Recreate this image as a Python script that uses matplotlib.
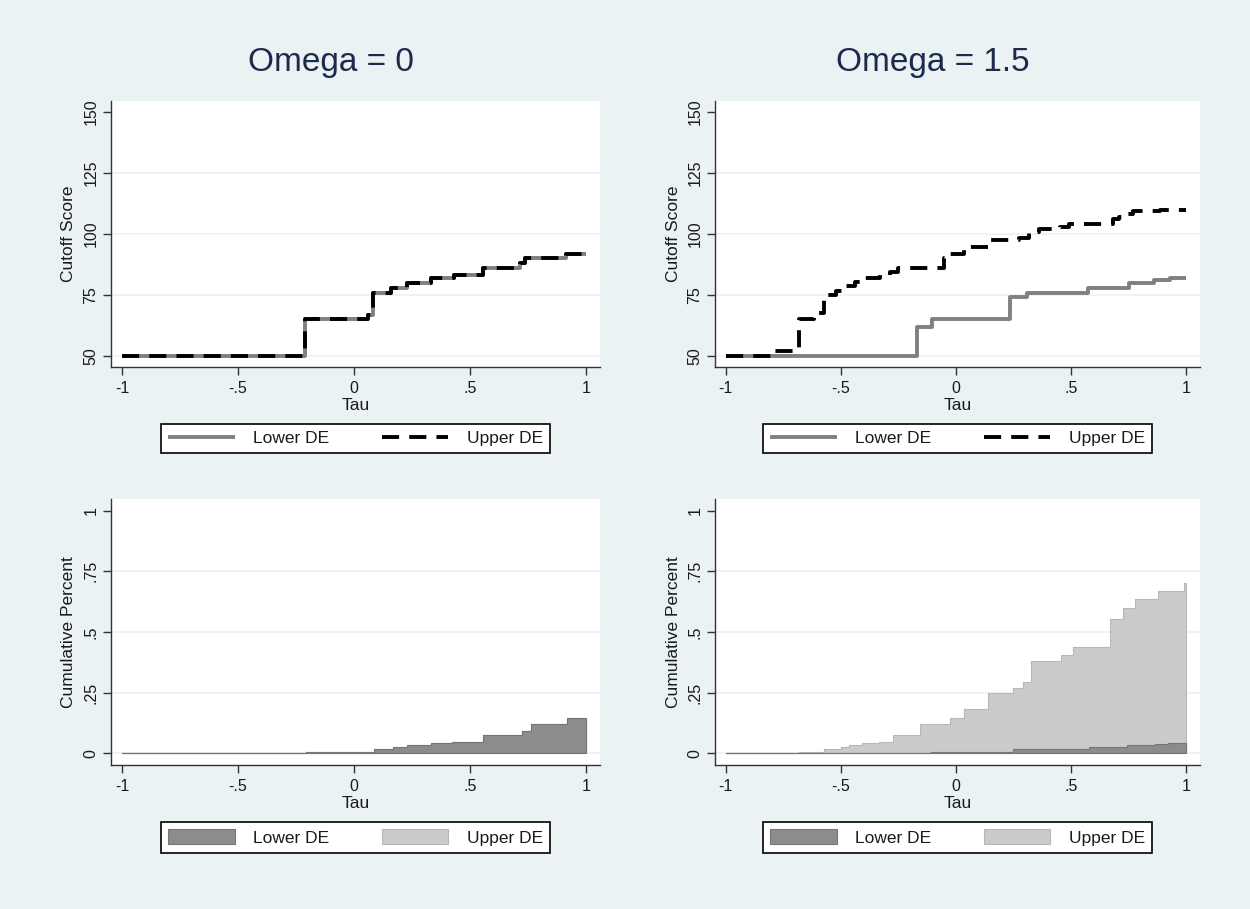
import matplotlib.pyplot as plt

plt.rcParams['font.family'] = ['Liberation Sans', 'DejaVu Sans']

# cutoff score step functions (tau, value)
tau_cut_om0 = [-1, -0.21, 0.06, 0.08, 0.16, 0.23, 0.33, 0.43, 0.555, 0.715, 0.735, 0.915, 1.0]
cut_om0 = [50, 65, 67, 76, 78, 80, 82, 83, 86, 88, 90, 92, 92]

tau_low_om15 = [-1, -0.17, -0.105, 0.235, 0.31, 0.575, 0.75, 0.86, 0.93, 1.0]
low_om15 = [50, 62, 65, 74, 76, 78, 80, 81, 82, 82]

tau_up_om15 = [-1, -0.795, -0.68, -0.615, -0.573, -0.523, -0.494, -0.437, -0.408, -0.329,
               -0.286, -0.25, -0.05, -0.034, 0.035, 0.145, 0.275, 0.318, 0.36, 0.45,
               0.49, 0.684, 0.71, 0.727, 0.77, 0.885, 1.0]
up_om15 = [50, 52, 65, 67.5, 75, 76.5, 78.5, 80.5, 82, 83,
           84.5, 86, 90, 92, 94.5, 97.5, 98.5, 101, 102, 103,
           104, 106, 107, 108, 109.5, 110, 110]

# cumulative percent step functions
tau_cum_om0 = [-1, -0.206, 0.088, 0.17, 0.227, 0.33, 0.424, 0.557, 0.722, 0.761, 0.917, 1.0]
cum_om0 = [0, 0.005, 0.016, 0.027, 0.033, 0.044, 0.048, 0.074, 0.093, 0.12, 0.146, 0.146]

tau_cum_up_om15 = [-1, -0.681, -0.573, -0.501, -0.466, -0.408, -0.336, -0.272, -0.157, -0.027,
                   0.033, 0.138, 0.246, 0.289, 0.325, 0.454, 0.509, 0.669, 0.727, 0.777,
                   0.878, 0.99, 1.0]
cum_up_om15 = [0, 0.005, 0.016, 0.027, 0.033, 0.042, 0.046, 0.074, 0.119, 0.145,
               0.182, 0.247, 0.27, 0.295, 0.381, 0.407, 0.437, 0.555, 0.597, 0.634,
               0.669, 0.70, 0.70]

tau_cum_low_om15 = [-1, -0.11, 0.246, 0.576, 0.741, 0.863, 0.92, 1.0]
cum_low_om15 = [0, 0.006, 0.016, 0.027, 0.034, 0.04, 0.044, 0.044]

titles = ['Omega = 0', 'Omega = 1.5']
x_ticks = [-1, -0.5, 0, 0.5, 1]
x_labels = ['-1', '-.5', '0', '.5', '1']
cut_ticks = [50, 75, 100, 125, 150]
cum_ticks = [0, 0.25, 0.5, 0.75, 1]
cum_labels = ['0', '.25', '.5', '.75', '1']

BG = '#eaf2f3'
GRAY_LINE = '#808080'
DARK_FILL = '#8c8c8c'
LIGHT_FILL = '#cbcbcb'
TXT = '#1a1a1a'

W, H = 1250, 909
fig = plt.figure(figsize=(W / 100, H / 100), dpi=100, facecolor=BG)


def make_axes(x0, x1, y0, y1):
    return fig.add_axes([x0 / W, 1 - y1 / H, (x1 - x0) / W, (y1 - y0) / H])


def style(ax, yticks, ylabels, ylim, ylabel):
    ax.set_facecolor('white')
    ax.set_xlim(-1.047, 1.06)
    ax.set_ylim(*ylim)
    ax.set_xticks(x_ticks, x_labels)
    ax.set_yticks(yticks, ylabels)
    for t in ax.get_yticklabels():
        t.set_rotation(90)
        t.set_va('center')
    ax.tick_params(axis='both', direction='out', length=6, width=1, color='#333333',
                   labelsize=11.5, labelcolor=TXT, pad=3)
    ax.tick_params(axis='x', pad=4)
    for s in ['top', 'right']:
        ax.spines[s].set_visible(False)
    for s in ['left', 'bottom']:
        ax.spines[s].set_color('#333333')
        ax.spines[s].set_linewidth(1)
    for v in yticks[:-1]:
        ax.axhline(v, color=BG, lw=1.2, zorder=0)
    ax.set_xlabel('Tau', fontsize=12.5, color=TXT)
    ax.xaxis.set_label_coords(0.5, -0.118)
    ax.set_ylabel(ylabel, fontsize=12.5, color=TXT)
    ax.yaxis.set_label_coords(-0.071, 0.5)


def add_legend(ax, handles, labels, **kw):
    leg = ax.legend(handles, labels, loc='upper center', bbox_to_anchor=(0.5, -0.214),
                    borderaxespad=0, ncol=2, fontsize=12.5, frameon=True, fancybox=False,
                    edgecolor='black', facecolor='white', framealpha=1,
                    handlelength=3.85, handletextpad=1.05, columnspacing=3.0,
                    borderpad=0.4, **kw)
    leg.get_frame().set_linewidth(1.2)
    for t in leg.get_texts():
        t.set_color(TXT)


cols = [(111, 600), (715, 1200)]
top_axes = [make_axes(x0, x1, 101, 367) for x0, x1 in cols]
bot_axes = [make_axes(x0, x1, 499, 765) for x0, x1 in cols]

cut_data = [
    ((tau_cut_om0, cut_om0), (tau_cut_om0, cut_om0)),
    ((tau_low_om15, low_om15), (tau_up_om15, up_om15)),
]
cum_data = [
    ((tau_cum_om0, cum_om0), (tau_cum_om0, cum_om0)),
    ((tau_cum_low_om15, cum_low_om15), (tau_cum_up_om15, cum_up_om15)),
]

for ax, (low, up) in zip(top_axes, cut_data):
    ax.plot(low[0], low[1], drawstyle='steps-post', color=GRAY_LINE, lw=2.8,
            solid_capstyle='butt', label='Lower DE', zorder=3)
    ax.plot(up[0], up[1], drawstyle='steps-post', color='black', lw=2.8,
            linestyle=(0, (4.4, 2.6)), dash_capstyle='butt', label='Upper DE', zorder=4)
    style(ax, cut_ticks, [str(v) for v in cut_ticks], (45.5, 154.5), 'Cutoff Score')
    h, l = ax.get_legend_handles_labels()
    add_legend(ax, h, l)

for ax, (low, up) in zip(bot_axes, cum_data):
    ax.fill_between(up[0], 0, up[1], step='post', facecolor=LIGHT_FILL,
                    edgecolor='#b8b8b8', lw=0.8, label='Upper DE', zorder=2)
    ax.fill_between(low[0], 0, low[1], step='post', facecolor=DARK_FILL,
                    edgecolor='#767676', lw=0.8, label='Lower DE', zorder=3)
    style(ax, cum_ticks, cum_labels, (-0.048, 1.048), 'Cumulative Percent')
    h, l = ax.get_legend_handles_labels()
    add_legend(ax, h[::-1], l[::-1], handleheight=1.0)

for (x0, x1), title in zip(cols, titles):
    fig.text(((x0 + x1) / 2 - 25) / W, 1 - 62 / H, title, ha='center', va='center',
             fontsize=24, color='#1c2a4c')

fig.savefig('out.png', dpi=100, facecolor=BG)
